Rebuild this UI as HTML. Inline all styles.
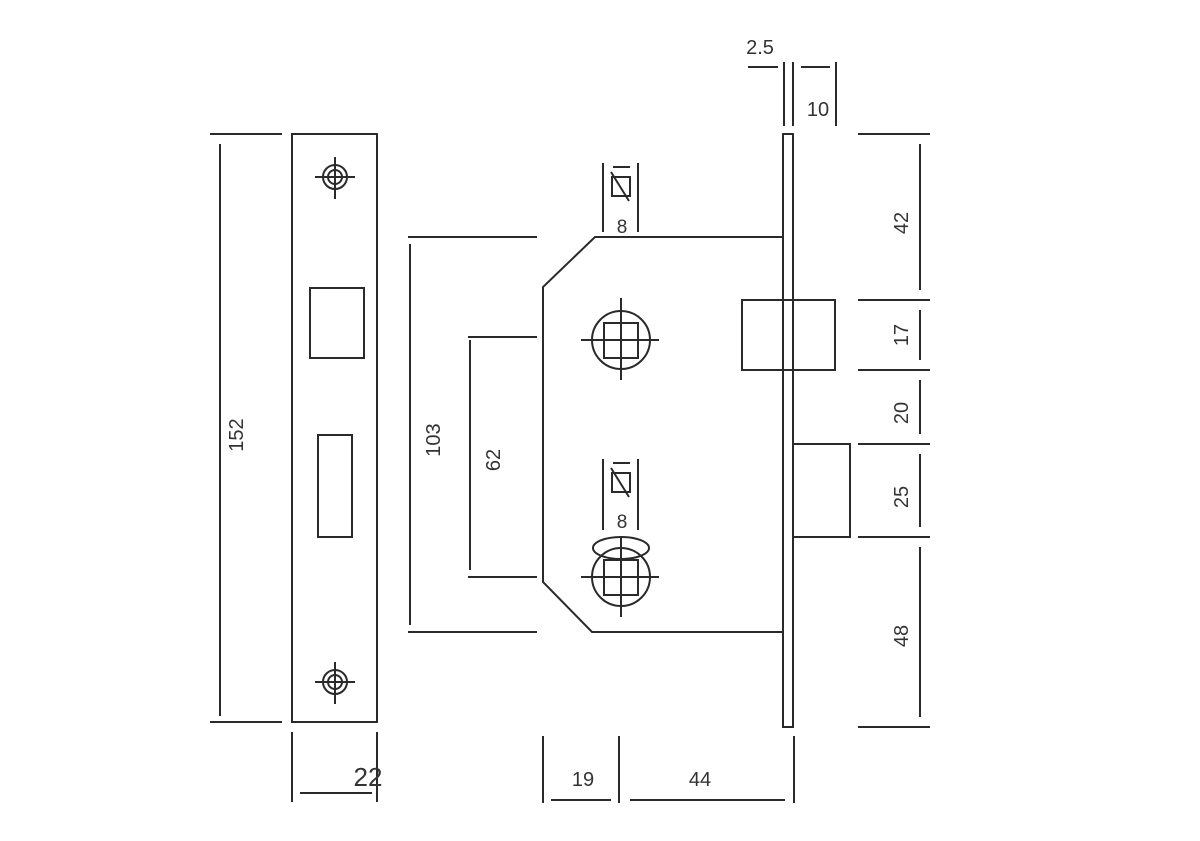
<!DOCTYPE html>
<html><head><style>html,body{margin:0;padding:0;background:#fff}svg{display:block}text{font-family:"Liberation Sans",sans-serif;fill:#333}</style></head><body>
<svg width="1200" height="841" viewBox="0 0 1200 841" xmlns="http://www.w3.org/2000/svg">
<g stroke="#2a2a2a" stroke-width="2" fill="none">
<!-- left plate -->
<rect x="292" y="134" width="85" height="588"/>
<line x1="210" y1="134" x2="282" y2="134"/><line x1="210" y1="722" x2="282" y2="722"/>
<line x1="220" y1="144" x2="220" y2="716"/>
<circle cx="335" cy="177" r="12"/><circle cx="335" cy="177" r="7"/>
<line x1="315" y1="177" x2="355" y2="177"/><line x1="335" y1="157" x2="335" y2="199"/>
<circle cx="335" cy="682" r="12"/><circle cx="335" cy="682" r="7"/>
<line x1="315" y1="682" x2="355" y2="682"/><line x1="335" y1="662" x2="335" y2="704"/>
<rect x="310" y="288" width="54" height="70"/>
<rect x="318" y="435" width="34" height="102"/>
<line x1="292" y1="732" x2="292" y2="802"/><line x1="377" y1="732" x2="377" y2="802"/>
<line x1="300" y1="793" x2="372" y2="793"/>
<!-- body -->
<polygon points="595,237 783,237 783,632 592,632 543,582 543,287"/>
<rect x="783" y="134" width="10" height="593"/>
<line x1="408" y1="237" x2="537" y2="237"/><line x1="408" y1="632" x2="537" y2="632"/>
<line x1="410" y1="244" x2="410" y2="625"/>
<line x1="468" y1="337" x2="537" y2="337"/><line x1="468" y1="577" x2="537" y2="577"/>
<line x1="470" y1="340" x2="470" y2="570"/>
<!-- followers -->
<circle cx="621" cy="340" r="29"/><rect x="604" y="323" width="34" height="35"/>
<line x1="581" y1="340" x2="659" y2="340"/><line x1="621" y1="298" x2="621" y2="380"/>
<circle cx="621" cy="577" r="29"/><rect x="604" y="560" width="34" height="35"/>
<ellipse cx="621" cy="548" rx="28" ry="11"/>
<line x1="581" y1="577" x2="659" y2="577"/><line x1="621" y1="537" x2="621" y2="617"/>
<!-- small 8 dims -->
<line x1="603" y1="163" x2="603" y2="232"/><line x1="638" y1="163" x2="638" y2="232"/>
<rect x="612" y="177" width="18" height="19"/><line x1="613" y1="167" x2="630" y2="167"/><line x1="611" y1="172" x2="629" y2="201"/>
<line x1="603" y1="459" x2="603" y2="530"/><line x1="638" y1="459" x2="638" y2="530"/>
<rect x="612" y="473" width="18" height="19"/><line x1="613" y1="463" x2="630" y2="463"/><line x1="611" y1="468" x2="629" y2="497"/>
<!-- bolts -->
<rect x="742" y="300" width="93" height="70"/>
<rect x="793" y="444" width="57" height="93"/>
<!-- right dims -->
<line x1="858" y1="134" x2="930" y2="134"/><line x1="858" y1="300" x2="930" y2="300"/>
<line x1="858" y1="370" x2="930" y2="370"/><line x1="858" y1="444" x2="930" y2="444"/>
<line x1="858" y1="537" x2="930" y2="537"/><line x1="858" y1="727" x2="930" y2="727"/>
<line x1="920" y1="144" x2="920" y2="290"/><line x1="920" y1="310" x2="920" y2="360"/>
<line x1="920" y1="380" x2="920" y2="434"/><line x1="920" y1="454" x2="920" y2="527"/>
<line x1="920" y1="547" x2="920" y2="717"/>
<!-- top dims -->
<line x1="748" y1="67" x2="778" y2="67"/>
<line x1="784" y1="62" x2="784" y2="126"/><line x1="793" y1="62" x2="793" y2="126"/>
<line x1="801" y1="67" x2="830" y2="67"/><line x1="836" y1="62" x2="836" y2="126"/>
<!-- bottom dims -->
<line x1="543" y1="736" x2="543" y2="803"/><line x1="619" y1="736" x2="619" y2="803"/><line x1="794" y1="736" x2="794" y2="803"/>
<line x1="551" y1="800" x2="611" y2="800"/><line x1="630" y1="800" x2="785" y2="800"/>
</g>
<g font-size="20" text-anchor="middle">
<text x="760" y="54">2.5</text>
<text x="818" y="116">10</text>
<text x="622" y="233" font-size="19">8</text>
<text x="622" y="528" font-size="19">8</text>
<text x="368" y="786" font-size="26">22</text>
<text x="583" y="786">19</text>
<text x="700" y="786">44</text>
<text transform="translate(243,435) rotate(-90)">152</text>
<text transform="translate(440,440) rotate(-90)">103</text>
<text transform="translate(500,460) rotate(-90)">62</text>
<text transform="translate(908,223) rotate(-90)">42</text>
<text transform="translate(908,335) rotate(-90)">17</text>
<text transform="translate(908,413) rotate(-90)">20</text>
<text transform="translate(908,497) rotate(-90)">25</text>
<text transform="translate(908,636) rotate(-90)">48</text>
</g>
</svg>
</body></html>
